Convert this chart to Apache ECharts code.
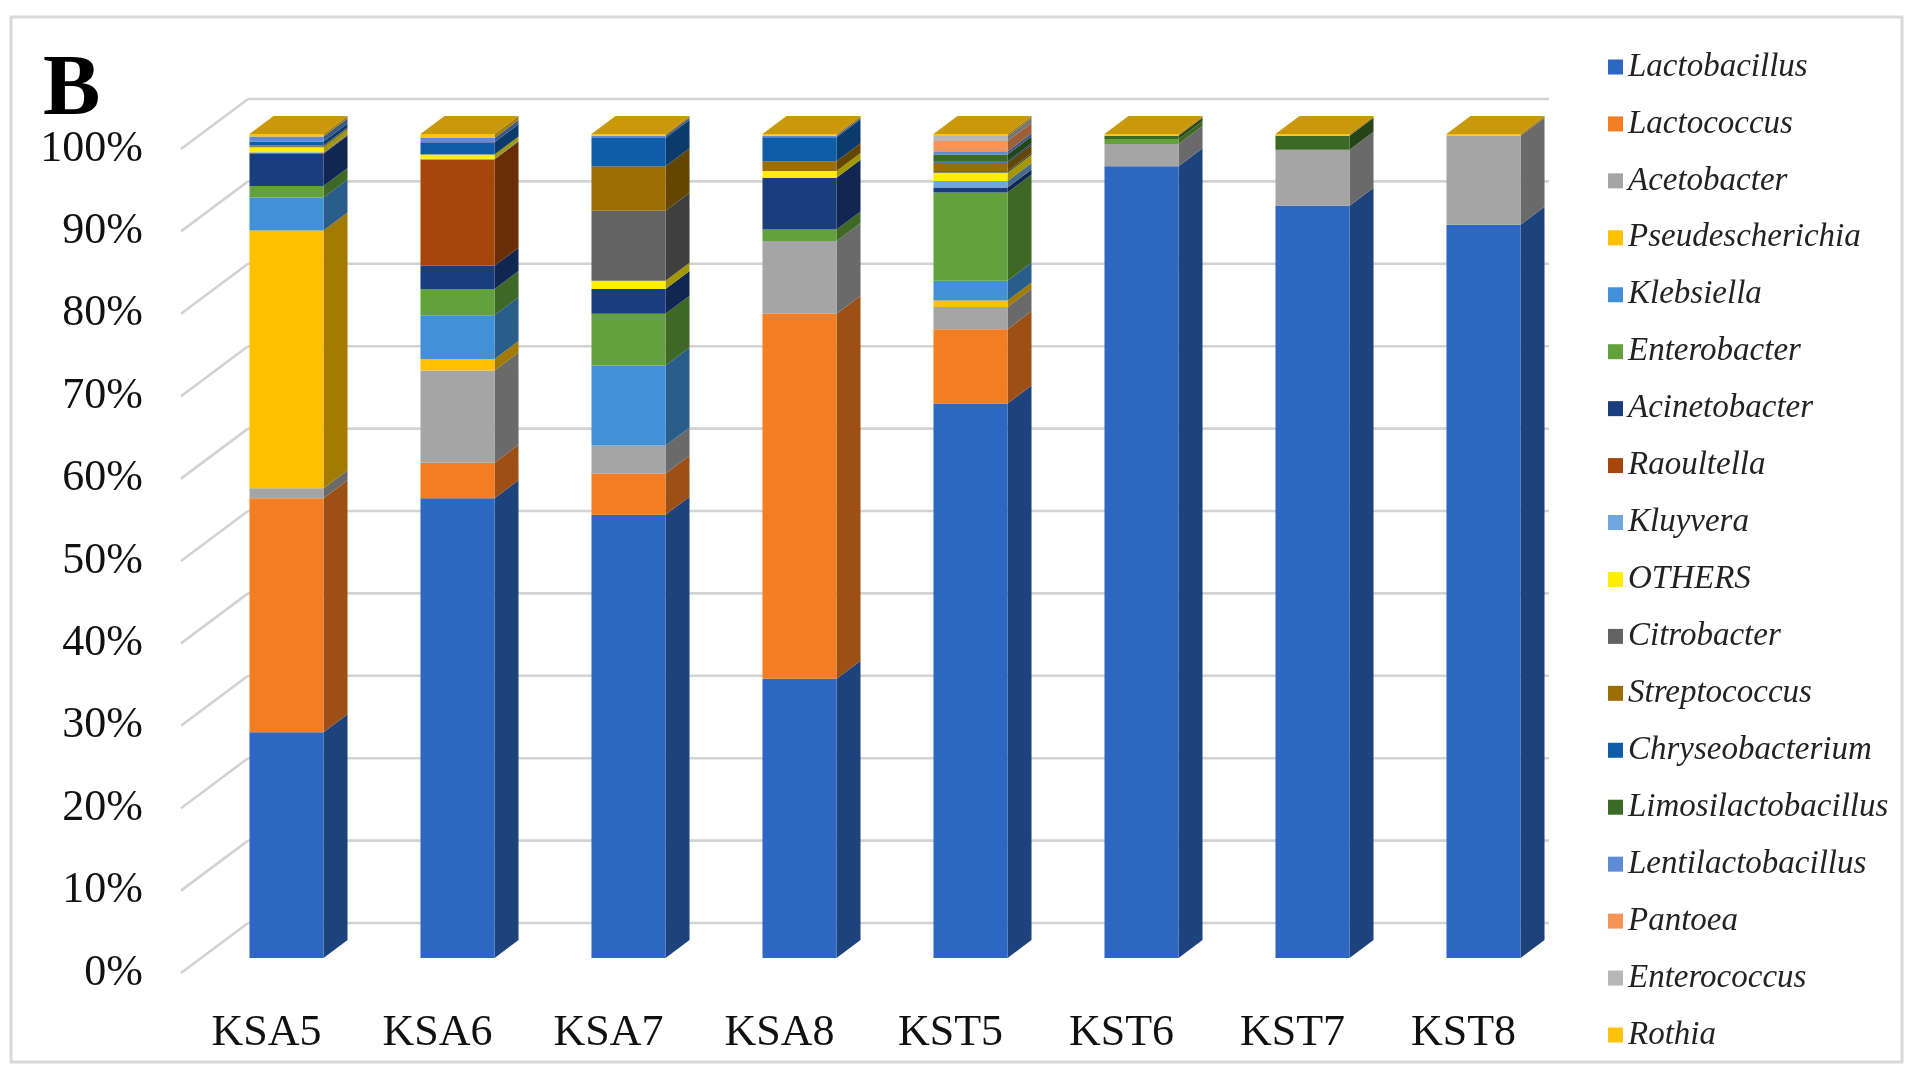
<!DOCTYPE html>
<html>
<head>
<meta charset="utf-8">
<script src="https://cdn.jsdelivr.net/npm/echarts@6/dist/echarts.min.js"></script>
<style>
  html, body { margin: 0; padding: 0; background: #fff; }
  #chart { width: 1915px; height: 1067px; }
</style>
</head>
<body>
<div id="chart"></div>
<script>
// Samples on the category axis
const categories = ['KSA5', 'KSA6', 'KSA7', 'KSA8', 'KST5', 'KST6', 'KST7', 'KST8'];

// Value-axis ticks (percent)
const percentTicks = [0, 10, 20, 30, 40, 50, 60, 70, 80, 90, 100];

// Relative abundance (%) per genus, in stacking order (bottom to top)
const genusNames = [
  'Lactobacillus', 'Lactococcus', 'Acetobacter', 'Pseudescherichia', 'Klebsiella',
  'Enterobacter', 'Acinetobacter', 'Raoultella', 'Kluyvera', 'OTHERS', 'Citrobacter',
  'Streptococcus', 'Chryseobacterium', 'Limosilactobacillus', 'Lentilactobacillus',
  'Pantoea', 'Enterococcus', 'Rothia'
];
const lactobacillus       = [27.4, 55.8, 53.8, 33.9, 67.3, 96.1, 91.3, 89.0];
const lactococcus         = [28.4,  4.3,  5.0, 44.3,  9.0,  0,    0,    0];
const acetobacter         = [ 1.2, 11.2,  3.4,  8.8,  2.7,  2.7,  6.8, 10.8];
const pseudescherichia    = [31.3,  1.4,  0,    0,    0.8,  0,    0,    0];
const klebsiella          = [ 4.0,  5.3,  9.7,  0,    2.4,  0,    0,    0];
const enterobacter        = [ 1.4,  3.2,  6.3,  1.4, 10.7,  0.6,  0,    0];
const acinetobacter       = [ 3.9,  2.8,  3.0,  6.3,  0.6,  0,    0,    0];
const raoultella          = [ 0.1, 12.9,  0,    0,    0,    0,    0,    0];
const kluyvera            = [ 0.1,  0.1,  0,    0,    0.8,  0,    0,    0];
const others              = [ 0.6,  0.5,  1.0,  0.8,  1.0,  0,    0,    0];
const citrobacter         = [ 0.1,  0,    8.5,  0,    0.2,  0,    0,    0];
const streptococcus       = [ 0.1,  0,    5.4,  1.2,  1.0,  0,    0,    0];
const chryseobacterium    = [ 0.5,  1.5,  3.4,  2.9,  0.2,  0,    0,    0];
const limosilactobacillus = [ 0,    0,    0,    0,    0.8,  0.4,  1.7,  0];
const lentilactobacillus  = [ 0.6,  0.5,  0.3,  0.2,  0.4,  0,    0,    0];
const pantoea             = [ 0,    0,    0,    0,    1.25, 0,    0,    0];
const enterococcus        = [ 0,    0,    0,    0,    0.6,  0,    0,    0];
const rothia              = [ 0.3,  0.5,  0.2,  0.2,  0.25, 0.2,  0.2,  0.2];

const genusValues = [
  lactobacillus, lactococcus, acetobacter, pseudescherichia, klebsiella,
  enterobacter, acinetobacter, raoultella, kluyvera, others, citrobacter,
  streptococcus, chryseobacterium, limosilactobacillus, lentilactobacillus,
  pantoea, enterococcus, rothia
];

const genusColors = [
  '#2E67C1', '#F37D22', '#A5A5A5', '#FFC000', '#4291D8',
  '#63A13C', '#1A3D80', '#A5470A', '#70A8DD', '#FFEE00', '#636363',
  '#9C6D00', '#0F5CA8', '#3A6A24', '#5F8BD6',
  '#F59456', '#B7B7B7', '#FFC20E'
];

// Oblique 3D projection, in pixels
const BAR_RATIO  = 0.433;      // bar front width / category band
const BAR_OFFSET = [20, -15];  // bar front face behind the floor's front edge
const BAR_DEPTH  = [24, -18];  // bar depth
const WALL_DEPTH = [67, -50];  // floor depth (back wall position)
const SIDE_SHADE = 0.64;
const TOP_SHADE  = 0.79;

function shade(hex, f) {
  const n = parseInt(hex.slice(1), 16);
  const r = Math.round(((n >> 16) & 255) * f);
  const g = Math.round(((n >> 8) & 255) * f);
  const b = Math.round((n & 255) * f);
  return 'rgb(' + r + ',' + g + ',' + b + ')';
}

// Cumulative stack bounds and the topmost visible segment of each bar
const stackBase = categories.map(() => 0);
const topSeries = categories.map((c, i) => {
  let t = -1;
  genusValues.forEach((vals, k) => { if (vals[i] > 0) t = k; });
  return t;
});
const stackedData = genusValues.map((vals, k) =>
  categories.map((c, i) => {
    const lo = stackBase[i];
    const hi = lo + vals[i];
    stackBase[i] = hi;
    return [i, lo, hi, topSeries[i] === k ? 1 : 0];
  })
);

function segmentRenderer(color) {
  return function (params, api) {
    const ci = api.value(0), lo = api.value(1), hi = api.value(2), isTop = api.value(3);
    if (!(hi > lo)) return null;
    const band = api.size([1, 0])[0];
    const w = band * BAR_RATIO;
    const b = api.coord([ci, lo]);
    const t = api.coord([ci, hi]);
    const x0 = b[0] - w / 2 + BAR_OFFSET[0];
    const x1 = x0 + w;
    const yb = b[1] + BAR_OFFSET[1];
    const yt = t[1] + BAR_OFFSET[1];
    const dx = BAR_DEPTH[0], dy = BAR_DEPTH[1];
    const children = [
      { type: 'polygon',
        shape: { points: [[x1, yb], [x1 + dx, yb + dy], [x1 + dx, yt + dy], [x1, yt]] },
        style: { fill: shade(color, SIDE_SHADE) } },
      { type: 'rect',
        shape: { x: x0, y: yt, width: w, height: yb - yt },
        style: { fill: color } }
    ];
    if (isTop) {
      children.push({ type: 'polygon',
        shape: { points: [[x0, yt], [x1, yt], [x1 + dx, yt + dy], [x0 + dx, yt + dy]] },
        style: { fill: shade(color, TOP_SHADE) } });
    }
    return { type: 'group', children };
  };
}

// Left wall diagonals and back wall gridlines at each percent tick
function wallRenderer(params, api) {
  const v = api.value(1);
  const band = api.size([1, 0])[0];
  const first = api.coord([0, v]);
  const last = api.coord([categories.length - 1, v]);
  const xl = first[0] - band / 2;
  const xr = last[0] + band / 2;
  const y = first[1];
  const lineStyle = { stroke: '#D3D3D3', lineWidth: 2.6, fill: null };
  return {
    type: 'group',
    children: [
      { type: 'line', shape: { x1: xl, y1: y, x2: xl + WALL_DEPTH[0], y2: y + WALL_DEPTH[1] }, style: lineStyle },
      { type: 'line', shape: { x1: xl + WALL_DEPTH[0], y1: y + WALL_DEPTH[1], x2: xr, y2: y + WALL_DEPTH[1] }, style: lineStyle }
    ]
  };
}

const serif = '"Liberation Serif", "Times New Roman", serif';

const series = [{
  type: 'custom',
  name: 'walls',
  silent: true,
  renderItem: wallRenderer,
  encode: { x: 0, y: 1 },
  data: percentTicks.map(v => [0, v]),
  z: 1
}].concat(genusNames.map((name, k) => ({
  type: 'custom',
  name: name,
  renderItem: segmentRenderer(genusColors[k]),
  itemStyle: { color: genusColors[k] },
  encode: { x: 0, y: [1, 2] },
  data: stackedData[k],
  z: 2
})));

const chart = echarts.init(document.getElementById('chart'), null, { renderer: 'canvas' });
chart.setOption({
  backgroundColor: '#ffffff',
  animation: false,
  title: {
    text: 'B',
    left: 38,
    top: 44,
    textStyle: { fontFamily: serif, fontSize: 86, fontWeight: 'bold', color: '#000' }
  },
  graphic: [{
    type: 'rect',
    shape: { x: 11, y: 17, width: 1891, height: 1045 },
    style: { fill: null, stroke: '#D9D9D9', lineWidth: 3 },
    silent: true,
    z: -1
  }],
  legend: {
    data: genusNames,
    orient: 'vertical',
    left: 1603,
    top: 44,
    icon: 'rect',
    itemWidth: 15,
    itemHeight: 15,
    itemGap: 20.94,
    textStyle: { fontFamily: serif, fontStyle: 'italic', fontSize: 33, lineHeight: 36, color: '#222' }
  },
  grid: { left: 181, top: 149, width: 1368, height: 824 },
  xAxis: {
    type: 'category',
    data: categories,
    axisLine: { show: false },
    axisTick: { show: false },
    axisLabel: { fontFamily: serif, fontSize: 44, color: '#111', margin: 38 }
  },
  yAxis: {
    type: 'value',
    min: 0,
    max: 100,
    interval: 10,
    axisLine: { show: false },
    axisTick: { show: false },
    splitLine: { show: false },
    axisLabel: { formatter: '{value}%', fontFamily: serif, fontSize: 44, color: '#111', margin: 38 }
  },
  series: series
});
</script>
</body>
</html>
